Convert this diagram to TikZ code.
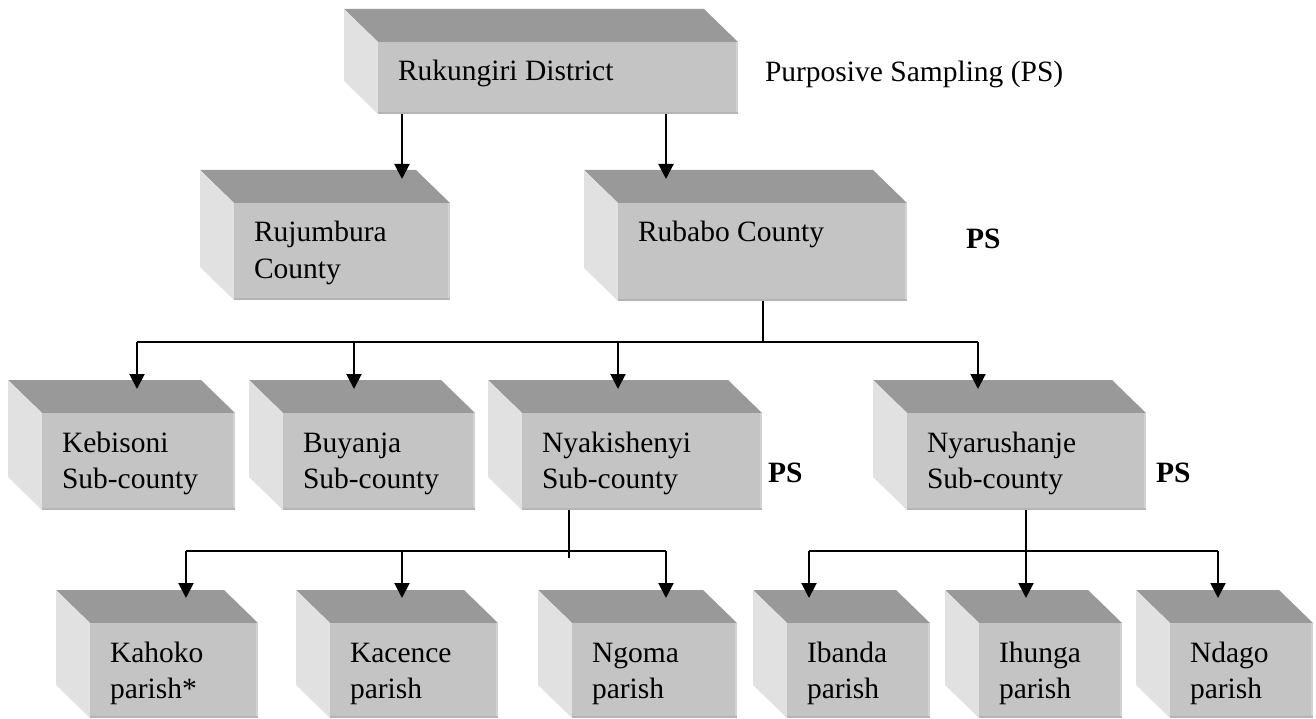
\documentclass[tikz,border=0pt]{standalone}
\usepackage{fontspec}
\setmainfont{Liberation Serif}
\usetikzlibrary{arrows.meta}

\definecolor{topgrey}{HTML}{999999}
\definecolor{sidegrey}{HTML}{E1E1E1}
\definecolor{frontgrey}{HTML}{C4C4C4}
\definecolor{rimlight}{HTML}{D2D2D2}
\definecolor{rimdark}{HTML}{B4B4B4}

\tikzset{
  topface/.style={fill=topgrey},
  sideface/.style={fill=sidegrey},
  frontface/.style={fill=frontgrey, inner sep=0pt, outer sep=0pt, draw=none},
  boxtext/.style={inner sep=0pt, outer sep=0pt, align=left,
    font=\fontsize{29.5}{36}\selectfont},
  note/.style={inner sep=0pt, outer sep=0pt, font=\fontsize{29.5}{36}\selectfont},
  psnote/.style={note, font=\fontsize{29.5}{36}\selectfont\bfseries},
  wire/.style={line width=2pt},
  arr/.style={line width=2pt, -{Triangle[length=15pt,width=15pt]}},
}

% three-dimensional box: name, front-left x, front-top y, width, height, text
\newcommand\solidbox[6]{%
  \fill[topface] (#2,#3) -- ++(-34,-33) -- ++(#4,0) -- ++(34,33) -- cycle;
  \fill[sideface] (#2,#3) -- ++(-34,-33) -- ++(0,#5) -- ++(34,33) -- cycle;
  \node[frontface, minimum width=#4pt, minimum height=#5pt, anchor=north west] (#1) at (#2,#3) {};
  \fill[rimlight] ([xshift=-2pt]#1.north east) rectangle (#1.south east);
  \fill[rimdark] ([yshift=2pt]#1.south west) rectangle (#1.south east);
  \node[boxtext, anchor=north west] (#1-label) at ([shift={(20pt,-9pt)}]#1.north west) {\rule{0pt}{30pt}#6};
}

\begin{document}
\begin{tikzpicture}[x=1pt, y=-1pt]
  \useasboundingbox (0,0) rectangle (1316,719);

  % district level
  \solidbox{rk}{378}{42}{360}{72}{Rukungiri District}
  \node[note, anchor=base west] (purpose) at (765,82) {Purposive Sampling (PS)};

  % counties
  \solidbox{ruj}{234}{203}{216}{97}{Rujumbura\\County}
  \solidbox{rub}{618}{203}{289}{98}{Rubabo County}
  \node[psnote, anchor=base west] (ps1) at (966,249) {PS};

  % sub-counties
  \solidbox{keb}{42}{413}{193}{97}{Kebisoni\\Sub-county}
  \solidbox{buy}{283}{413}{192}{97}{Buyanja\\Sub-county}
  \solidbox{nyk}{522}{413}{240}{97}{Nyakishenyi\\Sub-county}
  \solidbox{nyr}{907}{413}{239}{97}{Nyarushanje\\Sub-county}
  \node[psnote, anchor=base west] (ps2) at (768,482) {PS};
  \node[psnote, anchor=base west] (ps3) at (1156,482) {PS};

  % parishes
  \solidbox{kah}{90}{623}{168}{95}{Kahoko\\parish*}
  \solidbox{kac}{330}{623}{168}{95}{Kacence\\parish}
  \solidbox{ngo}{572}{623}{165}{95}{Ngoma\\parish}
  \solidbox{iba}{787}{623}{143}{95}{Ibanda\\parish}
  \solidbox{ihu}{979}{623}{143}{95}{Ihunga\\parish}
  \solidbox{nda}{1170}{623}{143}{95}{Ndago\\parish}

  % arrow entry points on the top faces
  \coordinate (ruj-in) at (402,179);
  \coordinate (rub-in) at (666,179);
  \coordinate (keb-in) at (137,389);
  \coordinate (buy-in) at (354,389);
  \coordinate (nyk-in) at (618,389);
  \coordinate (nyr-in) at (978,389);
  \coordinate (kah-in) at (186,598);
  \coordinate (kac-in) at (402,598);
  \coordinate (ngo-in) at (666,598);
  \coordinate (iba-in) at (809,598);
  \coordinate (ihu-in) at (1026,598);
  \coordinate (nda-in) at (1218,598);

  % bus levels
  \coordinate (busA) at (0,342);
  \coordinate (busB) at (0,551);
  \coordinate (nyk-out) at (569,558);

  % district to counties
  \draw[arr] (rk.south -| ruj-in) -- (ruj-in);
  \draw[arr] (rk.south -| rub-in) -- (rub-in);

  % Rubabo to sub-counties
  \draw[wire] (rub.south) -- (rub.south |- busA);
  \draw[wire] (keb-in |- busA) -- (nyr-in |- busA);
  \draw[arr] (keb-in |- busA) -- (keb-in);
  \draw[arr] (buy-in |- busA) -- (buy-in);
  \draw[arr] (nyk-in |- busA) -- (nyk-in);
  \draw[arr] (nyr-in |- busA) -- (nyr-in);

  % Nyakishenyi to parishes
  \draw[wire] (nyk.south -| nyk-out) -- (nyk-out);
  \draw[wire] (kah-in |- busB) -- (ngo-in |- busB);
  \draw[arr] (kah-in |- busB) -- (kah-in);
  \draw[arr] (kac-in |- busB) -- (kac-in);
  \draw[arr] (ngo-in |- busB) -- (ngo-in);

  % Nyarushanje to parishes
  \draw[wire] (iba-in |- busB) -- (nda-in |- busB);
  \draw[arr] (nyr.south -| ihu-in) -- (ihu-in);
  \draw[arr] (iba-in |- busB) -- (iba-in);
  \draw[arr] (nda-in |- busB) -- (nda-in);
\end{tikzpicture}
\end{document}
